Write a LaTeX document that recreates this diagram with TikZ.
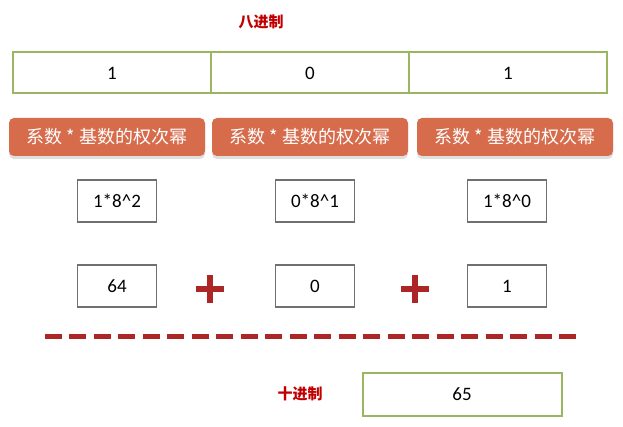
\documentclass[tikz,border=0pt]{standalone}
\usepackage{fontspec}
\setmainfont{Carlito}
\newfontfamily\cjk{Noto Sans CJK SC}
\usetikzlibrary{shadows}

\definecolor{boxgreen}{RGB}{155,182,96}
\definecolor{termorange}{RGB}{214,108,76}
\definecolor{titlered}{RGB}{192,0,0}
\definecolor{opred}{RGB}{172,38,38}
\definecolor{boxgray}{RGB}{112,112,112}

\tikzset{
  digitcell/.style={draw=boxgreen,line width=2pt,minimum width=198pt,minimum height=41pt,inner sep=0pt,font=\fontsize{19}{19}\selectfont},
  termbox/.style={fill=termorange,rounded corners=5pt,minimum width=196pt,minimum height=38pt,inner sep=0pt,text=white,
    font=\cjk\fontsize{18}{18}\selectfont,drop shadow={shadow xshift=0pt,shadow yshift=-3pt,opacity=.25}},
  valbox/.style={draw=boxgray,line width=1.5pt,minimum width=79pt,minimum height=42pt,inner sep=0pt,font=\fontsize{19}{19}\selectfont},
  redlabel/.style={text=titlered,font=\cjk\bfseries\fontsize{15}{15}\selectfont},
  plusbar/.style={draw=opred,line width=5.5pt}
}

\begin{document}
\begin{tikzpicture}[x=1pt,y=-1pt]
  \useasboundingbox (0,0) rectangle (623,427);
  % title
  \node[redlabel] (oct) at (261,22) {八进制};
  % octal digits
  \node[digitcell] (d2) at (112,73) {1};
  \node[digitcell] (d1) at (310,73) {0};
  \node[digitcell] (d0) at (508,73) {1};
  % coefficient * base^power
  \node[termbox] (t2) at (107,137) {系数 * 基数的权次幂};
  \node[termbox] (t1) at (310,137) {系数 * 基数的权次幂};
  \node[termbox] (t0) at (515,137) {系数 * 基数的权次幂};
  \node[valbox] (e2) at (117,201) {1*8\^{}2};
  \node[valbox] (e1) at (315,201) {0*8\^{}1};
  \node[valbox] (e0) at (507,201) {1*8\^{}0};
  % values
  \node[valbox] (v2) at (117,286) {64};
  \node[valbox] (v1) at (315,286) {0};
  \node[valbox] (v0) at (507,286) {1};
  % plus signs
  \coordinate (p1) at (210,289);
  \coordinate (p2) at (415,289);
  \foreach \p in {p1,p2}{
    \draw[plusbar] ([xshift=-14pt]\p) -- ([xshift=14pt]\p);
    \draw[plusbar] ([yshift=-14pt]\p) -- ([yshift=14pt]\p);
  }
  % sum line
  \coordinate (sl) at (45,336);
  \coordinate (sr) at (576,336);
  \draw[opred,line width=5pt,dash pattern=on 17pt off 7.48pt] (sl) -- (sr);
  % decimal result
  \node[redlabel] (dec) at (300,394) {十进制};
  \node[digitcell,minimum width=199pt,minimum height=43pt] (res) at (462,394) {65};
\end{tikzpicture}
\end{document}
